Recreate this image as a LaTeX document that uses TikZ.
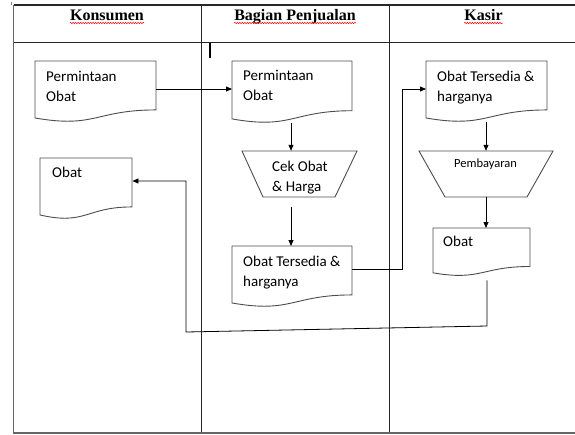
\documentclass[tikz,border=0pt]{standalone}
\usepackage{fontspec}
\setmainfont{Carlito}
\newfontfamily\hdrfont{Liberation Serif}
\usetikzlibrary{arrows.meta,fit,decorations.pathmorphing,calc}
\tikzset{
 shapeline/.style={draw=black!70, line width=0.9pt},
 flow/.style={draw=black, line width=0.8pt, -{Triangle[length=6pt,width=5pt]}},
 tableline/.style={draw=black!85, line width=1.1pt},
 outerline/.style={draw=black!60, line width=1.8pt},
 txt/.style={anchor=base west, inner sep=0, align=left, font=\fontsize{15}{20}\selectfont, text=black},
 hdr/.style={anchor=base, inner sep=0, font=\hdrfont\bfseries\fontsize{16}{18}\selectfont},
 wavy/.style={draw=red, line width=0.5pt, decorate, decoration={snake, amplitude=0.7pt, segment length=2.5pt}},
}
\newcommand\docbox[5]{%
 \node[inner sep=0, minimum width=#4pt, minimum height=#5pt, anchor=north west] (#1) at (#2,#3) {};
 \draw[shapeline] (#2,#3) -- ({#2+#4},#3) -- ({#2+#4},{#3+0.802*#5})
   .. controls ({#2+0.5*#4},{#3+0.802*#5}) and ({#2+0.5*#4},{#3+1.107*#5}) .. (#2,{#3+0.934*#5}) -- cycle;}
\newcommand\trapbox[7]{%
 \node[inner sep=0, fit={(#4,#2) (#5,#3)}] (#1) {};
 \draw[shapeline] (#4,#2) -- (#5,#2) -- (#7,#3) -- (#6,#3) -- cycle;}
\begin{document}
\begin{tikzpicture}[x=1pt,y=-1pt]
\useasboundingbox (0,0) rectangle (575,434);
% table
\draw[tableline] (13.5,5) -- (578,5);
\draw[tableline] (13.5,42.5) -- (578,42.5);
\draw[tableline] (201.5,5) -- (201.5,433);
\draw[tableline] (389.5,5) -- (389.5,433);
\draw[outerline] (13.5,4.5) -- (13.5,433) -- (578,433);
\draw[draw=black!50, line width=0.8pt] (11,1.5) -- (11,5);
% cursor
\draw[line width=2pt] (210,43) -- (210,58);
% headers
\node[hdr] (h1) at (107,20) {Konsumen};
\node[hdr] (h2) at (295,20) {Bagian Penjualan};
\node[hdr] (h3) at (483.5,20) {Kasir};
\foreach \h in {h1,h2,h3}{\draw[wavy] ([yshift=-3pt]\h.base west) -- ([yshift=-3pt]\h.base east);}
% shapes
\docbox{kperm}{35}{61}{121}{61}
\docbox{kobat}{40}{158}{92}{61}
\docbox{bperm}{232}{61}{120}{62}
\docbox{bobat}{232}{246}{120}{61}
\docbox{sobat1}{426}{61}{121}{61}
\docbox{sobat2}{433}{228}{97}{48}
\trapbox{cek}{151}{197}{242}{357}{263}{335}
\trapbox{pem}{151}{197}{419}{553}{445}{527}
% texts (base = baseline of last line)
\node[txt] (t1) at (46,101) {Permintaan\\Obat};
\node[txt] (t2) at (52,177) {Obat};
\node[txt] (t3) at (243,100) {Permintaan\\Obat};
\node[txt] (t4) at (272,191) {Cek Obat\\\& Harga};
\node[txt] (t5) at (243,286) {Obat Tersedia \&\\harganya};
\node[txt] (t6) at (437,101) {Obat Tersedia \&\\harganya};
\node[anchor=base, inner sep=0, font=\fontsize{12.5}{14}\selectfont] (t7) at (485.5,167) {Pembayaran};
\node[txt] (t8) at (443,246) {Obat};
% helper coordinates
\coordinate (y89) at (0,89);
\coordinate (y181) at (0,181);
\coordinate (j1) at (402,269);
\coordinate (r1) at (487,326);
\coordinate (r2) at (186,332);
\coordinate (x291) at (291,0);
\coordinate (x486) at (486,0);
% connectors
\draw[flow] (kperm.east |- y89) -- (bperm.west |- y89);
\draw[flow] (x291 |- bperm.south) -- (x291 |- cek.north);
\draw[flow, shorten <=10pt] (x291 |- cek.south) -- (x291 |- bobat.north);
\draw[flow] (bobat.east |- j1) -- (j1) |- (sobat1.west |- y89);
\draw[flow] (x486 |- sobat1.south) -- (x486 |- pem.north);
\draw[flow] (x486 |- pem.south) -- (x486 |- sobat2.north);
\draw[flow, shorten <=4pt] (r1 |- sobat2.south) -- (r1) -- (r2) |- (kobat.east |- y181);
\end{tikzpicture}
\end{document}
